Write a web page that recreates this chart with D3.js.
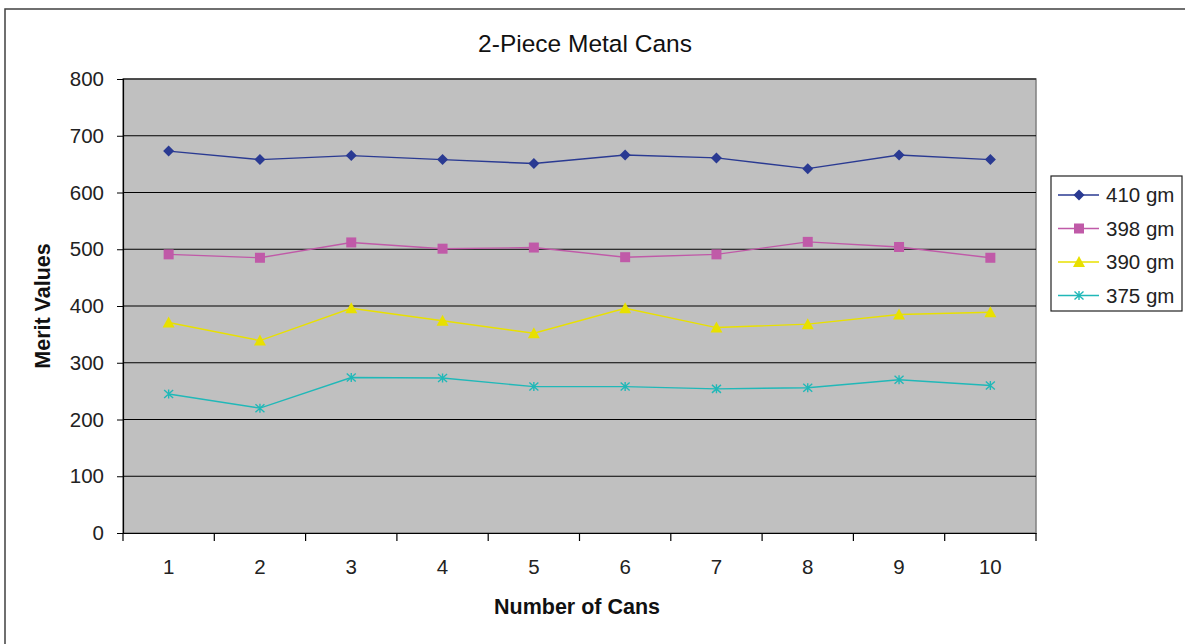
<!DOCTYPE html>
<html><head><meta charset="utf-8">
<script src="https://cdn.jsdelivr.net/npm/d3@7"></script>
<style>body{margin:0;background:#fff;}svg{display:block;font-family:"Liberation Sans",Arial,sans-serif;}</style>
</head><body>
<svg id="c" width="1185" height="644"></svg>
<script>
const categories = [1,2,3,4,5,6,7,8,9,10];
const s410 = [673,658,665,658,651,666,661,642,666,658];
const s398 = [491,485,512,501,503,486,491,513,504,485];
const s390 = [371,339,396,374,352,396,362,368,385,389];
const s375 = [245,220,274,273,258,258,254,256,270,260];
const seriesNames = ["410 gm","398 gm","390 gm","375 gm"];
const yTicks = [0,100,200,300,400,500,600,700,800];

const series = [
  {name: seriesNames[0], values: s410, color: "#2a3a92", marker: "diamond"},
  {name: seriesNames[1], values: s398, color: "#c05aa8", marker: "square"},
  {name: seriesNames[2], values: s390, color: "#e8e000", marker: "triangle"},
  {name: seriesNames[3], values: s375, color: "#20b8b8", marker: "star"}
];

const svg = d3.select("#c");
svg.append("rect").attr("x",5).attr("y",9).attr("width",1250).attr("height",700)
  .attr("fill","#fff").attr("stroke","#404040").attr("stroke-width",1.5);

const L=123, R=1036, T=79, B=533;
const x = d3.scaleBand().domain(categories).range([L,R]).padding(0);
const y = d3.scaleLinear().domain([0,800]).range([B,T]);

svg.append("rect").attr("x",L).attr("y",T).attr("width",R-L).attr("height",B-T)
  .attr("fill","#c0c0c0").attr("stroke","#808080").attr("stroke-width",1.5);

svg.append("g").selectAll("line").data(yTicks.filter(d=>d>0)).join("line")
  .attr("x1",L).attr("x2",R).attr("y1",d=>y(d)).attr("y2",d=>y(d))
  .attr("stroke","#000").attr("stroke-width",1.2);

const ya = svg.append("g").attr("transform",`translate(${L},0)`)
  .call(d3.axisLeft(y).tickValues(yTicks).tickSize(6).tickPadding(13));
ya.select(".domain").attr("stroke","#000").attr("stroke-width",1.2);
ya.selectAll(".tick line").attr("stroke","#000");
ya.selectAll("text").attr("font-size",20.5).attr("fill","#222").attr("font-family","Liberation Sans, Arial, sans-serif");

const xa = svg.append("g").attr("transform",`translate(0,${B})`)
  .call(d3.axisBottom(x).tickSize(0).tickPadding(26));
xa.select(".domain").attr("stroke","#000").attr("stroke-width",1.2);
xa.selectAll("text").attr("font-size",20.5).attr("fill","#222").attr("font-family","Liberation Sans, Arial, sans-serif");
const bounds = categories.map(c=>x(c)).concat([R]);
svg.append("g").selectAll("line").data(bounds).join("line")
  .attr("x1",d=>d).attr("x2",d=>d).attr("y1",B).attr("y2",B+8)
  .attr("stroke","#000").attr("stroke-width",1.2);

const cx = c => x(c)+x.bandwidth()/2;

function drawMarker(g, type, color){
  if(type==="diamond"){
    g.append("path").attr("d","M0,-5.5L5.5,0L0,5.5L-5.5,0Z").attr("fill",color);
  } else if(type==="square"){
    g.append("rect").attr("x",-5).attr("y",-5).attr("width",10).attr("height",10).attr("fill",color);
  } else if(type==="triangle"){
    g.append("path").attr("d","M0,-6L6,5L-6,5Z").attr("fill",color);
  } else {
    g.append("path").attr("d","M-4.5,-4L4.5,4M-4.5,4L4.5,-4M0,-4.5L0,4.5").attr("stroke",color).attr("stroke-width",1.4).attr("fill","none");
  }
}

const line = d3.line().x((d,i)=>cx(categories[i])).y(d=>y(d));
series.forEach(s=>{
  svg.append("path").datum(s.values).attr("d",line).attr("fill","none")
    .attr("stroke",s.color).attr("stroke-width",1.4);
  s.values.forEach((v,i)=>{
    const g = svg.append("g").attr("transform",`translate(${cx(categories[i])},${y(v)})`);
    drawMarker(g, s.marker, s.color);
  });
});

svg.append("text").attr("x",585).attr("y",52).attr("text-anchor","middle")
  .attr("font-size",24.5).attr("fill","#111").text("2-Piece Metal Cans");
svg.append("text").attr("x",577).attr("y",614).attr("text-anchor","middle")
  .attr("font-size",21.5).attr("font-weight","bold").attr("fill","#111").text("Number of Cans");
svg.append("text").attr("transform","translate(50,306) rotate(-90)").attr("text-anchor","middle")
  .attr("font-size",21.5).attr("font-weight","bold").attr("fill","#111").text("Merit Values");

const lg = svg.append("g");
lg.append("rect").attr("x",1051).attr("y",176).attr("width",131).attr("height",135)
  .attr("fill","#fff").attr("stroke","#222").attr("stroke-width",1.2);
series.forEach((s,i)=>{
  const yy = 195 + i*33.5;
  lg.append("line").attr("x1",1058).attr("x2",1099).attr("y1",yy).attr("y2",yy)
    .attr("stroke",s.color).attr("stroke-width",1.4);
  const g = lg.append("g").attr("transform",`translate(1079,${yy})`);
  drawMarker(g, s.marker, s.color);
  lg.append("text").attr("x",1106).attr("y",yy+7).attr("font-size",20.5).attr("fill","#222").text(s.name);
});
</script>
</body></html>
